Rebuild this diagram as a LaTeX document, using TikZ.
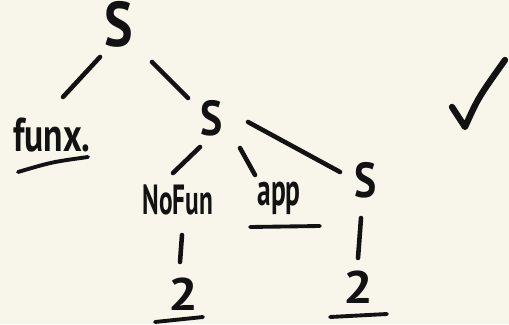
\documentclass[tikz,border=0pt]{standalone}
\usepackage{fontspec}
\newfontfamily\handfont[FakeStretch=0.75]{PT Sans}
\newfontfamily\narrowfont[FakeStretch=0.6]{PT Sans}
\newfontfamily\symfont[FakeStretch=0.85]{PT Sans}
\newfontfamily\digitfont[FakeStretch=1.15]{PT Sans}
\definecolor{paper}{HTML}{F8F6EA}
\definecolor{ink}{HTML}{121212}

\begin{document}
\begin{tikzpicture}[
  x=0.02cm, y=-0.02cm,
  word/.style={inner sep=0pt, anchor=base, text=ink},
  bigsym/.style={word, font=\symfont\bfseries\fontsize{36}{36}\selectfont},
  sym/.style={word, font=\symfont\bfseries\fontsize{28}{28}\selectfont},
  num/.style={word, font=\digitfont\bfseries\fontsize{26}{26}\selectfont},
  leaf/.style={word, font=\narrowfont\bfseries\fontsize{24}{24}\selectfont},
  edge/.style={draw=ink, line width=2.6pt, line cap=round},
  uline/.style={draw=ink, line width=2.2pt, line cap=round}
]
\fill[paper] (0,0) rectangle (509,324);
\useasboundingbox (0,0) rectangle (509,324);

% the nodes of the tree
\node[bigsym] (top) at (119,47) {S};
\node[word, font=\handfont\bfseries\fontsize{27}{27}\selectfont]
              (funx) at (52,152) {funx.};
\node[sym]    (mid) at (212,135) {S};
\node[leaf]   (nofun) at (178,214) {NoFun};
\node[leaf, font=\narrowfont\bfseries\fontsize{26}{26}\selectfont]
              (app) at (279,205) {app};
\node[sym]    (rgt) at (366,197) {S};
\node[num]    (twoL) at (183,310) {2};
\node[num]    (twoR) at (358,303) {2};

% branches
\draw[edge] ([shift={(-19,10)}]top.base) -- ([shift={(11,-55)}]funx.base);
\draw[edge] ([shift={(33,15)}]top.base) -- ([shift={(-24,-37)}]mid.base);
\draw[edge] ([shift={(-12,12)}]mid.base) -- ([shift={(-5,-41)}]nofun.base);
\draw[edge] ([shift={(28,13)}]mid.base) -- ([shift={(-24,-30)}]app.base);
\draw[edge] ([shift={(36,-13)}]mid.base) -- ([shift={(-26,-25)}]rgt.base);
\draw[edge] ([shift={(4,21)}]nofun.base) -- ([shift={(-3,-48)}]twoL.base);
\draw[edge] ([shift={(-5,21)}]rgt.base) -- ([shift={(0,-45)}]twoR.base);

% underlines
\draw[uline] ([shift={(-34,20)}]funx.base) .. controls ([shift={(0,10)}]funx.base) .. ([shift={(36,5)}]funx.base);
\draw[uline] ([shift={(-29,22)}]app.base) -- ([shift={(41,21)}]app.base);
\draw[uline] ([shift={(-28,12)}]twoL.base) -- ([shift={(20,7)}]twoL.base);
\draw[uline] ([shift={(-28,14)}]twoR.base) -- ([shift={(29,11)}]twoR.base);

% tick mark
\draw[draw=ink, line width=3.6pt, line cap=round, line join=round]
  (452,107) -- (465,127) .. controls (478,98) .. (505,60);
\end{tikzpicture}
\end{document}
